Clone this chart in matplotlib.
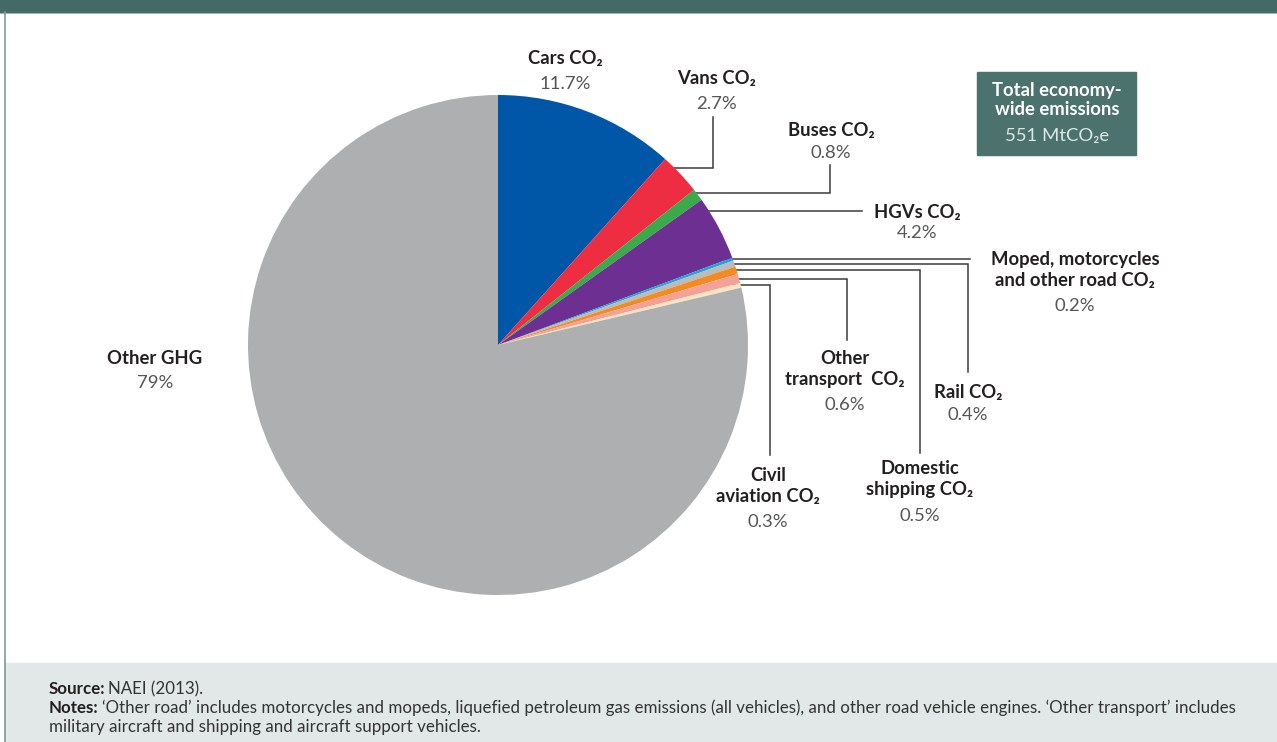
import numpy as np
import matplotlib.pyplot as plt
from matplotlib.patches import Rectangle

plt.rcParams["font.family"] = ["Lato", "DejaVu Sans"]

# UK greenhouse gas emissions, shares by source (%)
categories = [
    "Cars CO\u2082",
    "Vans CO\u2082",
    "Buses CO\u2082",
    "HGVs CO\u2082",
    "Moped, motorcycles\nand other road CO\u2082",
    "Rail CO\u2082",
    "Domestic\nshipping CO\u2082",
    "Other\ntransport  CO\u2082",
    "Civil\naviation CO\u2082",
    "Other GHG",
]
shares = [11.7, 2.7, 0.8, 4.2, 0.2, 0.4, 0.5, 0.6, 0.3, 79]
total_label = "551 MtCO\u2082e"

colors = ["#0057a8", "#ee2d43", "#3aaa4a", "#6d2f91", "#1ea6d8",
          "#b9bbbd", "#f28b21", "#f4a199", "#fde3bf", "#adafb0"]

# label layout: (title centre x, title centre y, pct y, leader path after anchor, anchor fraction)
layout = [
    (565, 58, 84, None, 0.5),
    (717, 78, 104, [(713, None), (713, 117)], 0.3),
    (831, 130, 153, [(830, None), (830, 165)], 0.35),
    (917, 212, 233, [(862, None)], 0.2),
    (1075, 270, 306, [(970, None)], 0.5),
    (968, 392, 415, [(968, None), (968, 372)], 0.5),
    (920, 479, 516, [(920, None), (920, 453)], 0.5),
    (845, 369, 405, [(847, None), (847, 340)], 0.5),
    (768, 486, 522, [(770, None), (770, 455)], 0.5),
    (155, 358, 383, None, 0.5),
]

W, H = 1277, 742
cx, cy, r = 498, 345, 250

fig = plt.figure(figsize=(W / 100, H / 100), dpi=100)
ax = fig.add_axes([0, 0, 1, 1])

wedges, _ = ax.pie(shares, colors=colors, startangle=-90, counterclock=True,
                   center=(cx, cy), radius=r, frame=True,
                   wedgeprops=dict(linewidth=0))
for w in wedges:
    w.set_zorder(3)
ax.set_xlim(0, W)
ax.set_ylim(H, 0)
ax.set_axis_off()

# frame: header strip, left rule and footer panel
ax.add_patch(Rectangle((0, 0), W, 12, color="#436a67", zorder=1))
ax.plot([0, W], [12.5, 12.5], color="#9fb3b1", lw=0.8, zorder=2)
ax.plot([5, 5], [12, H], color="#7f9896", lw=1.2, zorder=2)
ax.add_patch(Rectangle((5, 663), W, H - 663, color="#e2e7e7", zorder=1))

# labels and leader lines
tot = sum(shares)
cum = np.cumsum([0] + shares[:-1])
for i, (name, v) in enumerate(zip(categories, shares)):
    tx, ty, py, path, f = layout[i]
    ax.text(tx, ty, name, ha="center", va="center", fontsize=13.3,
            fontweight="bold", color="#231f20", linespacing=1.25, zorder=5)
    ax.text(tx, py, f"{v:g}%", ha="center", va="center", fontsize=13.3,
            color="#555555", zorder=5)
    if path:
        a = np.deg2rad(-90 + 360 * (cum[i] + f * v) / tot)
        x0, y0 = cx + 0.97 * r * np.cos(a), cy + r * np.sin(a)
        xs, ys = [x0], [y0]
        for px, pyy in path:
            xs.append(px)
            ys.append(y0 if pyy is None else pyy)
        ax.plot(xs, ys, color="#3c3c3c", lw=1.1, zorder=2,
                solid_joinstyle="miter")

# total emissions box
ax.add_patch(Rectangle((977, 72), 159, 83, color="#4b726d", zorder=4))
ax.text(1057, 100, "Total economy-\nwide emissions", ha="center", va="center",
        fontsize=13.3, fontweight="bold", color="white", linespacing=1.2, zorder=5)
ax.text(1057, 136, total_label, ha="center", va="center", fontsize=13.3,
        color="#dfe7e6", zorder=5)

# source and notes: bold lead-in word, then running text after it
renderer = fig.canvas.get_renderer()


def lead_text(x, y, head, body):
    t = ax.text(x, y, head, ha="left", va="center", fontsize=12.2,
                fontweight="bold", color="#231f20", zorder=5)
    wpx = t.get_window_extent(renderer).width
    ax.text(x + wpx + 3, y, body, ha="left", va="center", fontsize=12.2,
            color="#333333", zorder=5)


lead_text(49, 689, "Source:", "NAEI (2013).")
lead_text(49, 708, "Notes:",
          "\u2018Other road\u2019 includes motorcycles and mopeds, liquefied petroleum "
          "gas emissions (all vehicles), and other road vehicle engines. "
          "\u2018Other transport\u2019 includes")
ax.text(49, 727, "military aircraft and shipping and aircraft support vehicles.",
        ha="left", va="center", fontsize=12.2, color="#333333", zorder=5)

fig.savefig("out.png", dpi=100)
